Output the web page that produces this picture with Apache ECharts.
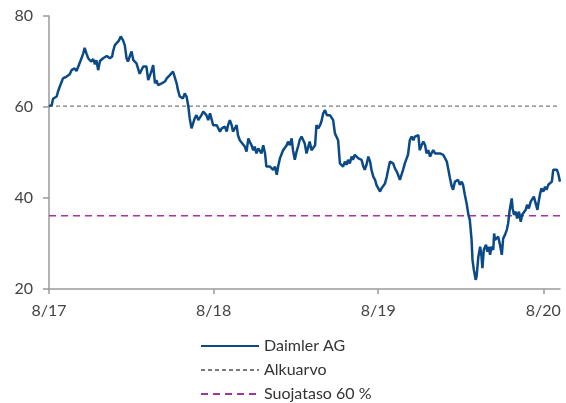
<!DOCTYPE html>
<html>
<head>
<meta charset="utf-8">
<script src="https://cdn.jsdelivr.net/npm/echarts@6/dist/echarts.min.js"></script>
<style>
html,body{margin:0;padding:0;background:#fff;}
#chart{width:566px;height:403px;}
</style>
</head>
<body>
<div id="chart"></div>
<script>
const dates = [
'2017-08-15','2017-08-21','2017-08-24','2017-08-28','2017-09-01','2017-09-04','2017-09-08','2017-09-15','2017-09-23','2017-09-30',
'2017-10-04','2017-10-11','2017-10-15','2017-10-19','2017-10-22','2017-10-26','2017-10-30','2017-11-02','2017-11-06','2017-11-10',
'2017-11-16','2017-11-21','2017-11-25','2017-11-28','2017-12-02','2017-12-06','2017-12-13','2017-12-21','2017-12-28','2018-01-02',
'2018-01-04','2018-01-08','2018-01-12','2018-01-17','2018-01-21','2018-01-26','2018-01-30','2018-02-03','2018-02-06','2018-02-10',
'2018-02-14','2018-02-18','2018-02-21','2018-02-25','2018-03-01','2018-03-04','2018-03-12','2018-03-15','2018-03-19','2018-03-23',
'2018-03-27','2018-03-30','2018-04-03','2018-04-07','2018-04-10','2018-04-14','2018-04-22','2018-04-29','2018-05-03','2018-05-10',
'2018-05-17','2018-05-21','2018-05-25','2018-05-28','2018-06-01','2018-06-05','2018-06-08','2018-06-12','2018-06-16','2018-06-20',
'2018-06-23','2018-06-27','2018-07-01','2018-07-04','2018-07-08','2018-07-12','2018-07-19','2018-07-23','2018-07-27','2018-07-30',
'2018-08-03','2018-08-07','2018-08-10','2018-08-14','2018-08-18','2018-08-22','2018-08-25','2018-08-29','2018-09-02','2018-09-05',
'2018-09-09','2018-09-13','2018-09-16','2018-09-20','2018-09-24','2018-09-27','2018-10-01','2018-10-05','2018-10-08','2018-10-12',
'2018-10-16','2018-10-23','2018-10-27','2018-10-31','2018-11-03','2018-11-07','2018-11-11','2018-11-14','2018-11-18','2018-11-22',
'2018-11-26','2018-11-29','2018-12-03','2018-12-07','2018-12-10','2018-12-14','2018-12-18','2018-12-22','2018-12-25','2018-12-29',
'2019-01-02','2019-01-05','2019-01-09','2019-01-13','2019-01-16','2019-01-20','2019-01-24','2019-01-27','2019-01-31','2019-02-04',
'2019-02-07','2019-02-11','2019-02-15','2019-02-19','2019-02-22','2019-02-26','2019-03-02','2019-03-05','2019-03-09','2019-03-13',
'2019-03-16','2019-03-20','2019-03-24','2019-03-28','2019-03-31','2019-04-04','2019-04-08','2019-04-11','2019-04-15','2019-04-19',
'2019-04-23','2019-04-26','2019-04-30','2019-05-04','2019-05-07','2019-05-11','2019-05-15','2019-05-18','2019-05-22','2019-05-26',
'2019-05-29','2019-06-02','2019-06-06','2019-06-09','2019-06-13','2019-06-17','2019-06-20','2019-06-24','2019-06-28','2019-07-02',
'2019-07-05','2019-07-09','2019-07-13','2019-07-16','2019-07-20','2019-07-24','2019-07-28','2019-07-31','2019-08-04','2019-08-08',
'2019-08-11','2019-08-15','2019-08-19','2019-08-22','2019-08-26','2019-08-30','2019-09-03','2019-09-06','2019-09-10','2019-09-14',
'2019-09-17','2019-09-21','2019-09-25','2019-09-28','2019-10-02','2019-10-06','2019-10-09','2019-10-13','2019-10-17','2019-10-20',
'2019-10-24','2019-10-28','2019-11-01','2019-11-04','2019-11-08','2019-11-12','2019-11-15','2019-11-19','2019-11-23','2019-11-27',
'2019-11-30','2019-12-04','2019-12-08','2019-12-11','2019-12-15','2019-12-19','2019-12-22','2019-12-30','2020-01-06','2020-01-10',
'2020-01-14','2020-01-17','2020-01-21','2020-01-25','2020-01-28','2020-02-01','2020-02-05','2020-02-08','2020-02-12','2020-02-16',
'2020-02-19','2020-02-23','2020-02-27','2020-03-02','2020-03-05','2020-03-09','2020-03-11','2020-03-14','2020-03-18','2020-03-20',
'2020-03-24','2020-03-28','2020-03-31','2020-04-02','2020-04-05','2020-04-10','2020-04-13','2020-04-16','2020-04-19','2020-04-22',
'2020-04-26','2020-04-28','2020-04-30','2020-05-04','2020-05-07','2020-05-11','2020-05-15','2020-05-18','2020-05-22','2020-05-26',
'2020-05-29','2020-06-01','2020-06-04','2020-06-06','2020-06-08','2020-06-11','2020-06-15','2020-06-18','2020-06-22','2020-06-26',
'2020-06-29','2020-07-03','2020-07-07','2020-07-10','2020-07-14','2020-07-18','2020-07-22','2020-07-25','2020-07-29','2020-08-02',
'2020-08-04','2020-08-08','2020-08-11','2020-08-15','2020-08-19','2020-08-22','2020-08-26','2020-08-30','2020-09-03','2020-09-06',
'2020-09-10','2020-09-14','2020-09-17','2020-09-21'
];
const prices = [
60.2,60.4,61.8,61.5,62.3,63.4,64.5,66.3,66.7,67.2,
68.1,68.5,67.9,68.9,68.9,70.7,71.8,73.0,71.8,70.7,
70.0,70.5,69.4,70.3,68.1,70.1,70.7,71.2,70.7,71.1,
72.2,73.6,74.0,74.6,75.5,74.7,73.6,70.7,70.0,71.1,
72.2,70.3,70.7,69.6,70.0,67.3,68.9,68.5,68.9,65.9,
67.0,67.8,69.2,65.2,65.9,64.8,65.2,65.6,66.3,67.0,
67.8,68.1,65.2,63.7,62.3,62.6,61.9,63.0,62.3,60.1,
57.5,55.3,54.9,57.5,58.2,57.1,58.2,59.0,59.3,58.2,
57.1,58.6,57.5,56.0,55.7,56.0,55.7,54.6,55.3,54.9,
55.7,54.6,56.0,57.1,56.0,54.6,55.3,56.0,53.8,52.7,
52.4,51.3,50.2,53.1,52.4,51.6,50.5,51.3,49.8,50.9,
50.5,49.8,51.6,49.8,46.9,47.3,46.9,46.5,46.2,46.9,
45.1,46.9,48.7,49.1,50.5,50.2,51.6,52.4,51.6,53.1,
50.5,48.4,50.2,51.6,52.8,53.5,53.1,52.0,49.8,51.3,
52.4,50.5,50.2,51.6,56.0,55.3,56.0,56.8,58.6,59.3,
58.2,58.6,58.2,58.6,57.1,54.2,53.8,52.7,47.6,47.3,
46.9,48.0,47.3,48.4,47.6,49.1,48.4,49.5,49.1,48.7,
49.1,48.4,46.9,46.2,47.3,49.1,48.0,46.2,44.7,44.0,
42.9,42.5,41.4,42.1,41.8,43.2,44.7,46.2,48.0,48.4,
47.6,46.5,45.8,45.1,44.0,43.6,46.2,47.6,48.7,49.5,
52.7,53.5,52.7,53.5,53.5,53.8,50.5,51.6,52.4,51.6,
49.8,50.5,49.1,49.8,50.5,49.8,49.5,49.8,49.5,49.5,
48.0,46.5,44.4,42.5,41.8,43.6,43.2,44.0,42.9,43.6,
42.9,40.7,38.8,36.3,35.2,30.8,26.4,24.2,22.0,22.7,
27.1,29.3,27.1,24.6,28.6,29.7,28.2,29.3,27.5,29.3,
28.6,32.2,30.8,31.1,31.5,29.7,27.5,31.1,31.9,33.0,
34.4,37.0,38.8,39.9,37.7,36.3,37.0,35.5,37.0,34.8,
36.3,36.6,37.4,38.5,37.7,39.2,38.8,40.3,39.9,37.4,
38.8,41.0,42.1,41.4,42.5,41.8,42.9,43.2,43.6,46.2,
46.5,46.2,45.4,43.6
];
const initialValue = 60.2;
const protectionLevel = 36.1;
const tickDates = ['2017-08-15','2018-08-15','2019-08-15','2020-08-15'];
const tickLabels = ['8/17','8/18','8/19','8/20'];
const seriesNames = ['Daimler AG','Alkuarvo','Suojataso 60 %'];

function ts(s){const p=s.split('-').map(Number);return Date.UTC(p[0],p[1]-1,p[2]);}
const tickTs = tickDates.map(ts);
const startTs = ts(dates[0]);
const endTs = ts(dates[dates.length-1]);
const FONT = 'Lato, "Open Sans", sans-serif';

const chart = echarts.init(document.getElementById('chart'), null, {renderer:'canvas'});
chart.setOption({
  animation:false,
  backgroundColor:'#fff',
  grid:{left:49, right:6, top:16, bottom:114, containLabel:false},
  xAxis:{
    type:'value', min:startTs, max:endTs, scale:true,
    axisLine:{show:true, onZero:false, lineStyle:{color:'#9a9a9a', width:1.5}},
    axisTick:{show:true, length:5, lineStyle:{color:'#9a9a9a', width:1.5}, customValues:tickTs},
    axisLabel:{customValues:tickTs, margin:14, color:'#444', fontSize:16, fontFamily:FONT,
      formatter:function(v){const i=tickTs.indexOf(v);return i>=0?tickLabels[i]:'';}},
    splitLine:{show:false}
  },
  yAxis:{
    type:'value', min:20, max:80, interval:20,
    axisLine:{show:true, lineStyle:{color:'#9a9a9a', width:1.5}},
    axisTick:{show:true, length:6, lineStyle:{color:'#9a9a9a', width:1.5}},
    axisLabel:{margin:16, color:'#444', fontSize:16, fontFamily:FONT},
    splitLine:{show:false}
  },
  legend:{
    orient:'vertical', left:200, top:338, padding:0, itemWidth:58, itemHeight:16, itemGap:8,
    itemStyle:{opacity:0},
    textStyle:{fontSize:16, color:'#333', fontFamily:FONT, lineHeight:16},
    data:seriesNames
  },
  series:[
    {name:seriesNames[1], type:'line', symbol:'none', silent:true,
     data:[[startTs,initialValue],[endTs,initialValue]],
     lineStyle:{color:'#7a7a7a', width:1.2, type:[4,3]}, itemStyle:{color:'#7a7a7a'}},
    {name:seriesNames[2], type:'line', symbol:'none', silent:true,
     data:[[startTs,protectionLevel],[endTs,protectionLevel]],
     lineStyle:{color:'#a3369e', width:1.5, type:[7,5]}, itemStyle:{color:'#a3369e'}},
    {name:seriesNames[0], type:'line', symbol:'none', z:5,
     data:dates.map((d,i)=>[ts(d),prices[i]]),
     lineStyle:{color:'#0b4a86', width:2.5}, itemStyle:{color:'#0b4a86'}}
  ]
});
</script>
</body>
</html>
